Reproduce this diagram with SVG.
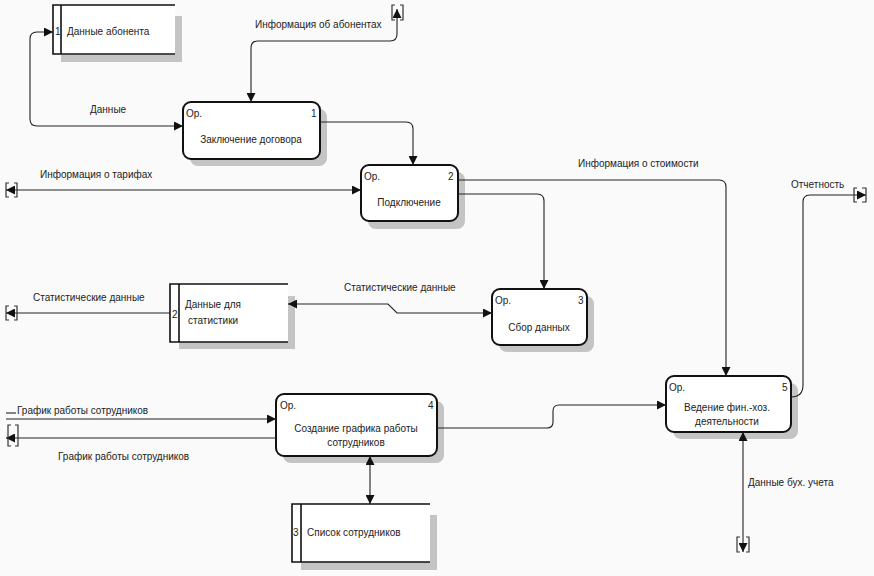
<svg xmlns="http://www.w3.org/2000/svg" width="874" height="576" viewBox="0 0 874 576">
<style>
text{font-family:"Liberation Sans",Arial,sans-serif;font-size:10px;fill:#222}
.proc{fill:#fff;stroke:#111;stroke-width:2}
.shadow{fill:#c4c4c4}
.st{fill:none;stroke:#111;stroke-width:1.6}
.stf{fill:#fff}
.c{fill:none;stroke:#222;stroke-width:1.1}
.br{fill:none;stroke:#333;stroke-width:1.2}
.ctr{text-anchor:middle}
</style>
<defs>
<marker id="ah" viewBox="0 0 10 10" refX="10" refY="5" markerWidth="9" markerHeight="9" markerUnits="userSpaceOnUse" orient="auto-start-reverse">
<path d="M0,0 L10,5 L0,10 z" fill="#111"/>
</marker>
</defs>
<rect width="874" height="576" fill="#fafafa"/>

<g id="store1">
<rect class="shadow" x="175" y="16" width="7" height="46"/>
<rect class="shadow" x="61" y="55" width="121" height="7"/>
<rect class="stf" x="53" y="5" width="122" height="49"/>
<path class="st" d="M175,5 L53,5 L53,54 L175,54 M61,5 L61,54"/>
<text x="55" y="35">1</text>
<text x="67" y="35">Данные абонента</text>
</g>

<g id="proc1">
<rect class="shadow" x="190" y="109" width="137" height="57" rx="8"/>
<rect class="proc" x="183" y="102" width="137" height="57" rx="8"/>
<text x="186" y="117">Ор.</text>
<text x="311" y="117">1</text>
<text x="251" y="143" class="ctr">Заключение договора</text>
</g>

<g id="proc2">
<rect class="shadow" x="368" y="172" width="97" height="57" rx="8"/>
<rect class="proc" x="361" y="165" width="97" height="56" rx="8"/>
<text x="364" y="180">Ор.</text>
<text x="448" y="180">2</text>
<text x="409" y="206" class="ctr">Подключение</text>
</g>

<g id="proc3">
<rect class="shadow" x="499" y="296" width="95" height="56" rx="8"/>
<rect class="proc" x="492" y="289" width="95" height="56" rx="8"/>
<text x="495" y="304">Ор.</text>
<text x="578" y="304">3</text>
<text x="539" y="331" class="ctr">Сбор данных</text>
</g>

<g id="store2">
<rect class="shadow" x="288" y="296" width="7" height="53"/>
<rect class="shadow" x="179" y="342" width="116" height="7"/>
<rect class="stf" x="170" y="284" width="118" height="58"/>
<path class="st" d="M288,284 L170,284 L170,342 L288,342 M179,284 L179,342"/>
<text x="172" y="318">2</text>
<text x="185" y="308">Данные для</text>
<text x="188" y="324">статистики</text>
</g>

<g id="proc4">
<rect class="shadow" x="283" y="401" width="161" height="62" rx="8"/>
<rect class="proc" x="276" y="394" width="161" height="62" rx="8"/>
<text x="280" y="409">Ор.</text>
<text x="428" y="409">4</text>
<text x="356" y="432" class="ctr">Создание графика работы</text>
<text x="356" y="446" class="ctr">сотрудников</text>
</g>

<g id="store3">
<rect class="shadow" x="430" y="515" width="7" height="55"/>
<rect class="shadow" x="301" y="562" width="136" height="8"/>
<rect class="stf" x="292" y="504" width="138" height="58"/>
<path class="st" d="M430,504 L292,504 L292,562 L430,562 M301,504 L301,562"/>
<text x="293" y="536">3</text>
<text x="307" y="536">Список сотрудников</text>
</g>

<g id="proc5">
<rect class="shadow" x="673" y="383" width="125" height="56" rx="8"/>
<rect class="proc" x="666" y="376" width="125" height="56" rx="8"/>
<text x="669" y="391">Ор.</text>
<text x="782" y="391">5</text>
<text x="727" y="411" class="ctr">Ведение фин.-хоз.</text>
<text x="727" y="425" class="ctr">деятельности</text>
</g>

<g id="connectors">
<path class="c" d="M251,102 L251,48 Q251,41 258,41 L390,41 Q397,41 397,34 L397,9" marker-start="url(#ah)" marker-end="url(#ah)"/>
<path class="br" d="M395,5 L392,5 L392,20 L395,20 M400,5 L403,5 L403,20 L400,20"/>
<text x="255" y="28">Информация об абонентах</text>

<path class="c" d="M183,126 L37,126 Q30,126 30,119 L30,39 Q30,32 37,32 L53,32" marker-start="url(#ah)" marker-end="url(#ah)"/>
<text x="90" y="113">Данные</text>

<path class="c" d="M320,122 L406,122 Q413,122 413,129 L413,165" marker-end="url(#ah)"/>

<path class="c" d="M6,190 L361,190" marker-start="url(#ah)" marker-end="url(#ah)"/>
<path class="br" d="M9,183 L6,183 L6,197 L9,197 M14,183 L17,183 L17,197 L14,197"/>
<text x="40" y="178">Информация о тарифах</text>

<path class="c" d="M458,180 L719,180 Q726,180 726,187 L726,376" marker-end="url(#ah)"/>
<text x="578" y="167">Информация о стоимости</text>

<path class="c" d="M458,194 L537,194 Q544,194 544,201 L544,289" marker-end="url(#ah)"/>

<path class="c" d="M492,313 L397,313 L388,304 L288,304" marker-start="url(#ah)" marker-end="url(#ah)"/>
<text x="344" y="291">Статистические данные</text>

<path class="c" d="M170,313 L6,313" marker-end="url(#ah)"/>
<path class="br" d="M9,306 L6,306 L6,320 L9,320 M14,306 L17,306 L17,320 L14,320"/>
<text x="33" y="301">Статистические данные</text>

<path class="c" d="M6,419 L276,419" marker-end="url(#ah)"/>
<path class="c" d="M6,413 L16,413"/>
<text x="17" y="414">График работы сотрудников</text>
<path class="c" d="M276,438 L6,438" marker-end="url(#ah)"/>
<path class="br" d="M11,425 L8,425 L8,446 L11,446 M15,425 L18,425 L18,446 L15,446"/>
<text x="58" y="460">График работы сотрудников</text>

<path class="c" d="M437,428 L547,428 Q553,428 553,422 L553,411 Q553,405 559,405 L666,405" marker-end="url(#ah)"/>

<path class="c" d="M370,456 L370,504" marker-start="url(#ah)" marker-end="url(#ah)"/>

<path class="c" d="M791,397 Q803,397 803,385 L803,202 Q803,195 810,195 L866,195" marker-end="url(#ah)"/>
<path class="br" d="M857,188 L854,188 L854,202 L857,202 M862,188 L866,188 L866,202 L862,202"/>
<text x="791" y="188">Отчетность</text>

<path class="c" d="M743,432 L743,552" marker-start="url(#ah)" marker-end="url(#ah)"/>
<path class="br" d="M740,537 L737,537 L737,552 L740,552 M746,537 L749,537 L749,552 L746,552"/>
<text x="748" y="486">Данные бух. учета</text>
</g>
</svg>
